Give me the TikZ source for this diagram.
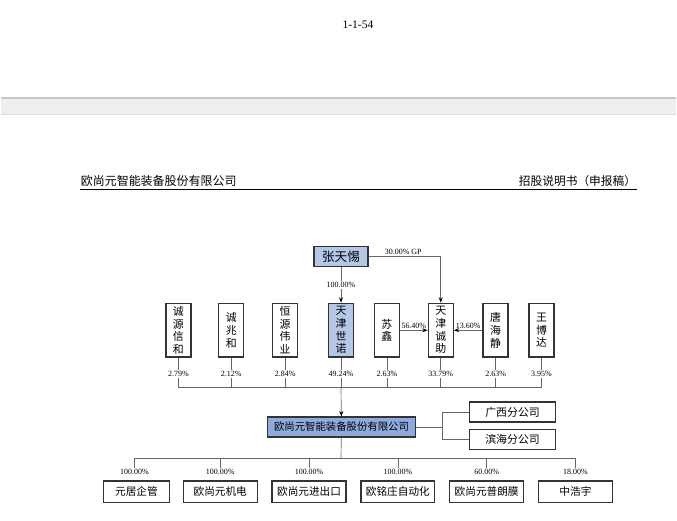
\documentclass[tikz,border=0pt]{standalone}
\usepackage{fontspec}
\setmainfont{Liberation Serif}
\newfontfamily\cjk{Noto Sans CJK SC}
\usepackage{tikz}
\usetikzlibrary{arrows.meta}
\definecolor{lightblue}{RGB}{180,199,231}
\definecolor{midblue}{RGB}{143,170,220}
\definecolor{bandgray}{RGB}{239,239,239}

\begin{document}
\begin{tikzpicture}[x=0.75pt, y=-0.75pt,
    box/.style={draw=black!80, line width=1pt, fill=white, inner sep=0pt, align=center},
    vbox/.style={box, minimum width=18.75pt, minimum height=40.5pt, font=\cjk\fontsize{8.2}{9.5}\selectfont},
    hbox/.style={box, minimum height=15pt},
    sbox/.style={box, minimum width=55.5pt, minimum height=16.5pt, font=\cjk\fontsize{8}{9}\selectfont},
    pct/.style={font=\fontsize{6}{7}\selectfont, inner sep=0.8pt},
    link/.style={draw=black!60, line width=0.5pt},
    arr/.style={link, -{Stealth[length=4pt, width=3pt, color=black]}}]
    \path[fill=white] (0,0) rectangle (677,522);
    % page head
    \node[font=\fontsize{8.7}{10}\selectfont] (N) at (358,25) {1-1-54};
    \fill[bandgray] (0,98) rectangle (677,115);
    \draw[black!22, line width=1.2pt] (0,98.5) -- (677,98.5);
    \draw[black!13, line width=0.8pt] (0,115) -- (677,115);
    \node[font=\cjk\fontsize{9}{11}\selectfont, anchor=west, inner sep=0pt] (L) at (80,181) {欧尚元智能装备股份有限公司};
    \node[font=\cjk\fontsize{8.8}{11}\selectfont, anchor=east, inner sep=0pt] (R) at (637,181) {招股说明书（申报稿）};
    \draw[line width=0.9pt] (79,190) -- (638,190);

    % shareholders
    \node[hbox, fill=lightblue, minimum width=40.5pt, font=\cjk\fontsize{9.5}{11}\selectfont] (P) at (341,257) {张天惕};
    \node[vbox] (H1) at (178,331) {诚\\源\\信\\和};
    \node[vbox] (H2) at (231,331) {诚\\兆\\和};
    \node[vbox] (H3) at (285,331) {恒\\源\\伟\\业};
    \node[vbox, fill=lightblue] (H4) at (341,331) {天\\津\\世\\诺};
    \node[vbox] (H5) at (387,331) {苏\\鑫};
    \node[vbox] (H6) at (441,331) {天\\津\\诚\\助};
    \node[vbox] (H7) at (496,331) {唐\\海\\静};
    \node[vbox] (H8) at (542,331) {王\\博\\达};
    \draw[arr] (P) -- node[pct, fill=white] {100.00\%} (H4);
    \draw[arr] (P.east) -| node[pct, above, pos=0.24] {30.00\% GP} (H6.north);
    \draw[arr] (H5) -- node[pct, above] {56.40\%} (H6);
    \draw[arr] (H7) -- node[pct, above] {13.60\%} (H6);

    \node[pct] (h1) at (178,375) {2.79\%};
    \node[pct] (h2) at (231,375) {2.12\%};
    \node[pct] (h3) at (285,375) {2.84\%};
    \node[pct] (h4) at (341,375) {49.24\%};
    \node[pct] (h5) at (387,375) {2.63\%};
    \node[pct] (h6) at (441,375) {33.79\%};
    \node[pct] (h7) at (496,375) {2.63\%};
    \node[pct] (h8) at (542,375) {3.95\%};
    \coordinate (T) at (341,388);
    \foreach \i in {1,...,8} {
        \draw[link] (H\i) -- (h\i);
        \draw[link] (h\i) -- (h\i |- T);
    }
    \draw[link] (h1 |- T) -- (h8 |- T);

    % company and branches
    \node[hbox, fill=midblue, minimum width=111.75pt, font=\cjk\fontsize{7.8}{9}\selectfont] (M) at (341.5,428) {欧尚元智能装备股份有限公司};
    \draw[arr] (T) -- (M);
    \node[hbox, minimum width=64.5pt, font=\cjk\fontsize{8.2}{9}\selectfont] (B1) at (513,413) {广西分公司};
    \node[hbox, minimum width=64.5pt, font=\cjk\fontsize{8.2}{9}\selectfont] (B2) at (513,440.5) {滨海分公司};
    \coordinate (J) at (443,428);
    \draw[link] (M) -- (J);
    \draw[link] (B1.west) -| (J) |- (B2.west);

    % subsidiaries
    \node[sbox, minimum width=49.5pt] (S1) at (136,493) {元居企管};
    \node[sbox] (S2) at (220,493) {欧尚元机电};
    \node[sbox] (S3) at (309,493) {欧尚元进出口};
    \node[sbox] (S4) at (398,493) {欧铭庄自动化};
    \node[sbox] (S5) at (487,493) {欧尚元普朗膜};
    \node[sbox] (S6) at (576,493) {中浩宇};
    \node[pct] (s1) at (134,473) {100.00\%};
    \node[pct] (s2) at (220,473) {100.00\%};
    \node[pct] (s3) at (309,473) {100.00\%};
    \node[pct] (s4) at (398,473) {100.00\%};
    \node[pct] (s5) at (487,473) {60.00\%};
    \node[pct] (s6) at (576,473) {18.00\%};
    \coordinate (U) at (341,459);
    \draw[link] (M) -- (U);
    \foreach \i in {1,...,6} {
        \draw[link] (s\i) -- (s\i |- U);
    }
    \draw[link] (s1 |- U) -- (s6 |- U);
\end{tikzpicture}
\end{document}
